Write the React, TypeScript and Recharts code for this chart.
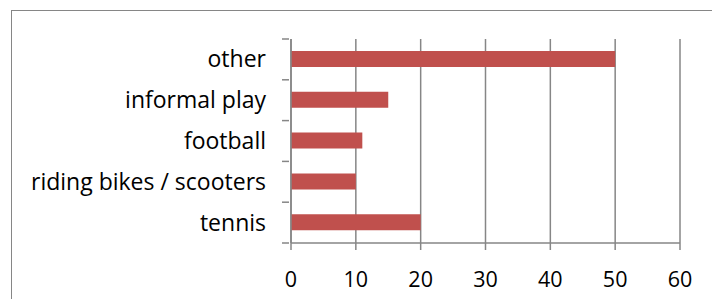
import React from "react";
import { BarChart, Bar, XAxis, YAxis, CartesianGrid } from "recharts";

const categories = ["other", "informal play", "football", "riding bikes / scooters", "tennis"];
const values = [50, 15, 11, 10, 20];
const xTicks = [0, 10, 20, 30, 40, 50, 60];

const data = categories.map((name, i) => ({ name, value: values[i] }));

const FONT = "'Open Sans', sans-serif";
const GRID = "#868686";
const BAND = 204 / categories.length;

// category ticks sit on the band edges, labels in the middle
const CatTick = (props: any) => {
  const { x, y, payload, index } = props;
  const top = y - BAND / 2;
  return (
    <g>
      <line x1={x} x2={x + 7} y1={top} y2={top} stroke={GRID} strokeWidth={1.5} />
      {index === categories.length - 1 && (
        <line x1={x} x2={x + 7} y1={y + BAND / 2} y2={y + BAND / 2} stroke={GRID} strokeWidth={1.5} />
      )}
      <text x={x - 16} y={y - 1} textAnchor="end" dominantBaseline="central" fontFamily={FONT} fontSize={23} fill="#000">
        {payload.value}
      </text>
    </g>
  );
};

export default function App() {
  return (
    <div style={{ position: "absolute", left: 0, top: 0, width: 712, height: 299, background: "#fff", overflow: "hidden" }}>
      <div
        style={{
          position: "absolute",
          left: 11,
          top: 10,
          width: 720,
          height: 320,
          border: "1px solid #868686",
        }}
      />
      <div style={{ position: "absolute", left: 0, top: 0 }}>
        <BarChart
          width={712}
          height={299}
          data={data}
          layout="vertical"
          margin={{ top: 39, right: 32, bottom: 26, left: 0 }}
        >
          <CartesianGrid horizontal={false} stroke={GRID} strokeWidth={1.5} />
          <XAxis
            type="number"
            domain={[0, 60]}
            ticks={xTicks}
            interval={0}
            height={30}
            axisLine={{ stroke: GRID, strokeWidth: 1.5 }}
            tickLine={{ stroke: GRID, strokeWidth: 1.5 }}
            tickSize={7}
            tick={{ fontFamily: FONT, fontSize: 21.5, fill: "#000", dy: 20 }}
          />
          <YAxis
            type="category"
            dataKey="name"
            width={291}
            axisLine={{ stroke: GRID, strokeWidth: 1.5 }}
            tickLine={false}
            tickSize={7}
            tick={<CatTick />}
          />
          <Bar dataKey="value" fill="#C0504D" barSize={16} isAnimationActive={false} />
        </BarChart>
      </div>
    </div>
  );
}
